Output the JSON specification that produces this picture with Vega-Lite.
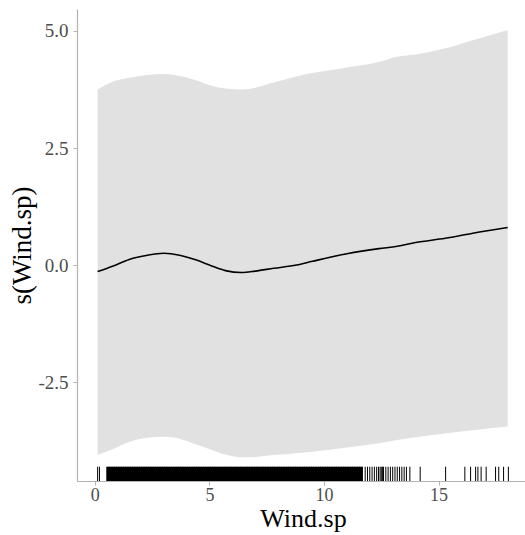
{
  "$schema": "https://vega.github.io/schema/vega-lite/v6.json",
  "width": 452,
  "height": 472,
  "autosize": {"type": "none"},
  "padding": {"left": 77, "top": 9, "right": 0, "bottom": 54},
  "background": "white",
  "config": {
    "view": {"stroke": null},
    "font": "Liberation Serif",
    "axis": {
      "grid": false,
      "domainColor": "#b3b3b3",
      "domainWidth": 1.2,
      "tickColor": "#b3b3b3",
      "tickSize": 4,
      "labelFont": "Liberation Serif",
      "labelFontSize": 19,
      "labelColor": "#4d4d4d",
      "titleFont": "Liberation Serif",
      "titleFontSize": 27,
      "titleFontWeight": "normal",
      "titleColor": "#000000"
    }
  },
  "datasets": {
    "fit": [
      {"x": 0.12, "fit": -0.14, "lower": -4.06, "upper": 3.75},
      {"x": 0.8, "fit": -0.02, "lower": -3.93, "upper": 3.92},
      {"x": 1.5, "fit": 0.12, "lower": -3.78, "upper": 4.0},
      {"x": 2.3, "fit": 0.21, "lower": -3.69, "upper": 4.06},
      {"x": 3.0, "fit": 0.25, "lower": -3.67, "upper": 4.08},
      {"x": 3.7, "fit": 0.21, "lower": -3.71, "upper": 4.04},
      {"x": 4.4, "fit": 0.11, "lower": -3.83, "upper": 3.95},
      {"x": 5.1, "fit": -0.02, "lower": -3.95, "upper": 3.83},
      {"x": 5.7, "fit": -0.12, "lower": -4.05, "upper": 3.77},
      {"x": 6.4, "fit": -0.16, "lower": -4.11, "upper": 3.75},
      {"x": 7.0, "fit": -0.13, "lower": -4.1, "upper": 3.79},
      {"x": 7.8, "fit": -0.07, "lower": -4.06, "upper": 3.9},
      {"x": 8.8, "fit": 0.0, "lower": -4.02, "upper": 4.03},
      {"x": 9.5, "fit": 0.08, "lower": -3.99, "upper": 4.1},
      {"x": 11.0, "fit": 0.24, "lower": -3.9, "upper": 4.22},
      {"x": 12.4, "fit": 0.35, "lower": -3.81, "upper": 4.34},
      {"x": 13.2, "fit": 0.4, "lower": -3.74, "upper": 4.45},
      {"x": 14.0, "fit": 0.48, "lower": -3.68, "upper": 4.5},
      {"x": 15.3, "fit": 0.57, "lower": -3.6, "upper": 4.63},
      {"x": 16.5, "fit": 0.68, "lower": -3.53, "upper": 4.8},
      {"x": 18.02, "fit": 0.8, "lower": -3.45, "upper": 5.02}
    ],
    "rugdense": [
      {"x": 0.6}, {"x": 0.7}, {"x": 0.8}, {"x": 0.9}, {"x": 1.0}, {"x": 1.1}, {"x": 1.2}, {"x": 1.3}, {"x": 1.4}, {"x": 1.5},
      {"x": 1.6}, {"x": 1.7}, {"x": 1.8}, {"x": 1.9}, {"x": 2.0}, {"x": 2.1}, {"x": 2.2}, {"x": 2.3}, {"x": 2.4}, {"x": 2.5},
      {"x": 2.6}, {"x": 2.7}, {"x": 2.8}, {"x": 2.9}, {"x": 3.0}, {"x": 3.1}, {"x": 3.2}, {"x": 3.3}, {"x": 3.4}, {"x": 3.5},
      {"x": 3.6}, {"x": 3.7}, {"x": 3.8}, {"x": 3.9}, {"x": 4.0}, {"x": 4.1}, {"x": 4.2}, {"x": 4.3}, {"x": 4.4}, {"x": 4.5},
      {"x": 4.6}, {"x": 4.7}, {"x": 4.8}, {"x": 4.9}, {"x": 5.0}, {"x": 5.1}, {"x": 5.2}, {"x": 5.3}, {"x": 5.4}, {"x": 5.5},
      {"x": 5.6}, {"x": 5.7}, {"x": 5.8}, {"x": 5.9}, {"x": 6.0}, {"x": 6.1}, {"x": 6.2}, {"x": 6.3}, {"x": 6.4}, {"x": 6.5},
      {"x": 6.6}, {"x": 6.7}, {"x": 6.8}, {"x": 6.9}, {"x": 7.0}, {"x": 7.1}, {"x": 7.2}, {"x": 7.3}, {"x": 7.4}, {"x": 7.5},
      {"x": 7.6}, {"x": 7.7}, {"x": 7.8}, {"x": 7.9}, {"x": 8.0}, {"x": 8.1}, {"x": 8.2}, {"x": 8.3}, {"x": 8.4}, {"x": 8.5},
      {"x": 8.6}, {"x": 8.7}, {"x": 8.8}, {"x": 8.9}, {"x": 9.0}, {"x": 9.1}, {"x": 9.2}, {"x": 9.3}, {"x": 9.4}, {"x": 9.5},
      {"x": 9.6}, {"x": 9.7}, {"x": 9.8}, {"x": 9.9}, {"x": 10.0}, {"x": 10.1}, {"x": 10.2}, {"x": 10.3}, {"x": 10.4}, {"x": 10.5},
      {"x": 10.6}, {"x": 10.7}, {"x": 10.8}, {"x": 10.9}, {"x": 11.0}, {"x": 11.1}, {"x": 11.2}, {"x": 11.3}, {"x": 11.4}, {"x": 11.5},
      {"x": 11.6}
    ],
    "rug": [
      {"x": 0.12}, {"x": 0.2}, {"x": 0.52}, {"x": 11.68}, {"x": 11.8}, {"x": 11.9}, {"x": 12.0}, {"x": 12.1},
      {"x": 12.2}, {"x": 12.3}, {"x": 12.38}, {"x": 12.45}, {"x": 12.5}, {"x": 12.55}, {"x": 12.6}, {"x": 12.7},
      {"x": 12.8}, {"x": 12.9}, {"x": 13.0}, {"x": 13.1}, {"x": 13.2}, {"x": 13.3}, {"x": 13.4}, {"x": 13.5},
      {"x": 13.6}, {"x": 13.75}, {"x": 14.2}, {"x": 15.31}, {"x": 16.15}, {"x": 16.4}, {"x": 16.62}, {"x": 16.72},
      {"x": 16.86}, {"x": 17.08}, {"x": 17.49}, {"x": 17.63}, {"x": 17.84}, {"x": 18.05}
    ]
  },
  "layer": [
    {
      "data": {"name": "fit"},
      "mark": {"type": "area", "color": "#e1e1e1", "clip": true, "interpolate": "monotone"},
      "encoding": {
        "x": {
          "field": "x", "type": "quantitative",
          "scale": {"domain": [-0.78, 18.95], "nice": false, "zero": false},
          "axis": {"values": [0, 5, 10, 15], "title": "Wind.sp", "titlePadding": 1, "titleFontSize": 26, "labelFontSize": 18, "labelPadding": 1, "labelFont": "Liberation Serif"}
        },
        "y": {
          "field": "upper", "type": "quantitative",
          "scale": {"domain": [-4.615, 5.47], "nice": false, "zero": false},
          "axis": {
            "values": [-2.5, 0, 2.5, 5],
            "labelExpr": "replace(format(datum.value, '.1f'), '−', '-')",
            "labelPadding": 5,
            "labelFont": "Liberation Serif",
            "title": "s(Wind.sp)",
            "titleX": -41
          }
        },
        "y2": {"field": "lower"}
      }
    },
    {
      "data": {"name": "fit"},
      "mark": {"type": "line", "color": "#000000", "strokeWidth": 1.6, "interpolate": "monotone"},
      "encoding": {
        "x": {"field": "x", "type": "quantitative"},
        "y": {"field": "fit", "type": "quantitative"}
      }
    },
    {
      "data": {"name": "rugdense"},
      "mark": {"type": "rule", "color": "#000000", "strokeWidth": 3.2},
      "encoding": {
        "x": {"field": "x", "type": "quantitative"},
        "y": {"datum": -4.615},
        "y2": {"datum": -4.31}
      }
    },
    {
      "data": {"name": "rug"},
      "mark": {"type": "rule", "color": "#000000", "strokeWidth": 1},
      "encoding": {
        "x": {"field": "x", "type": "quantitative"},
        "y": {"datum": -4.615},
        "y2": {"datum": -4.31}
      }
    }
  ]
}
